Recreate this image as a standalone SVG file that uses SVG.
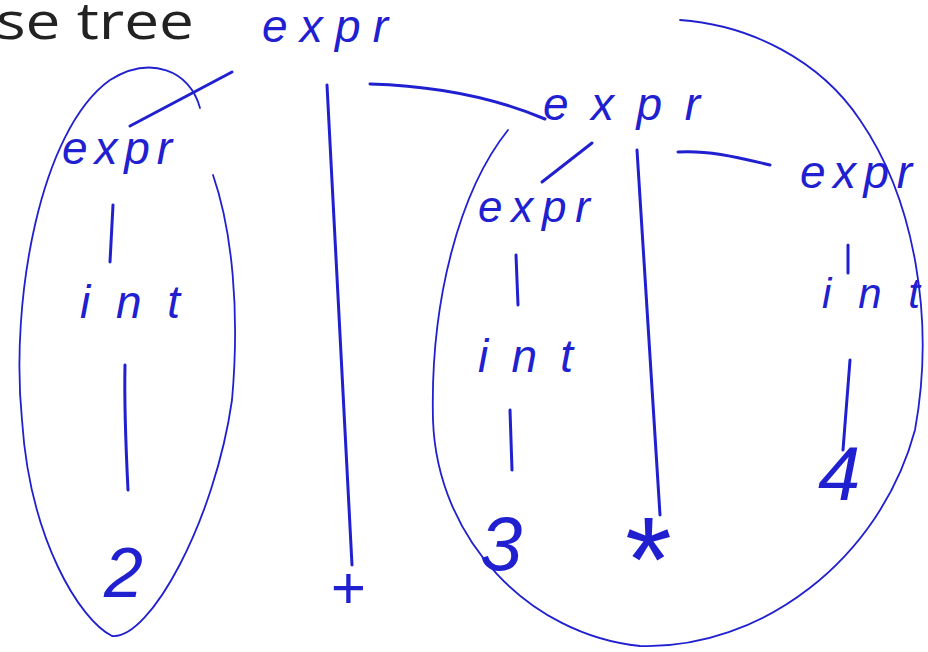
<svg xmlns="http://www.w3.org/2000/svg" width="928" height="652" viewBox="0 0 928 652">
<style>
.t{font-family:"Liberation Sans",Arial,sans-serif;font-style:italic;fill:#2020d0;}
.c{fill:none;stroke:#2020d0;stroke-width:3;stroke-linecap:round;}
.o{fill:none;stroke:#2020d0;stroke-width:1.8;stroke-linecap:round;}
.h{font-family:"Open Sans","DejaVu Sans",sans-serif;fill:#222;}
</style>
<rect width="928" height="652" fill="#fff"/>
<text class="h" x="-4" y="39" font-size="52" textLength="198" lengthAdjust="spacingAndGlyphs">se tree</text>
<g id="groups">
<path class="o" d="M200,108 C190,70 150,55 110,80 C40,130 10,300 22,420 C30,540 80,620 112,636 C150,640 215,520 232,400 C240,310 232,230 213,175"/>
<path class="o" d="M508,130 C460,190 430,300 433,420 C437,540 530,635 640,646 C760,650 880,560 915,430 C935,320 915,200 860,120 C820,60 750,25 680,20"/>
</g>
<g id="connectors">
<path class="c" d="M232,72 L130,126"/>
<path class="c" d="M327,85 L352,565"/>
<path class="c" d="M370,84 C440,86 500,100 545,119"/>
<path class="c" d="M113,205 L110,262"/>
<path class="c" d="M125,365 C124,410 126,450 128,490"/>
<path class="c" d="M592,143 L542,182"/>
<path class="c" d="M637,150 L660,515"/>
<path class="c" d="M678,152 C710,150 740,158 770,165"/>
<path class="c" d="M516,255 L518,305"/>
<path class="c" d="M510,410 L512,470"/>
<path class="c" d="M848,245 L848,273"/>
<path class="c" d="M850,360 L843,450"/>
</g>
<g id="n-expr-root"><text class="t" x="262" y="42" font-size="46" textLength="126" lengthAdjust="spacing">expr</text></g>
<g id="n-expr-l"><text class="t" x="62" y="164" font-size="46" textLength="110" lengthAdjust="spacing">expr</text></g>
<g id="n-int-l"><text class="t" x="80" y="318" font-size="46" textLength="100" lengthAdjust="spacing">int</text></g>
<g id="n-2"><text class="t" x="104" y="597" font-size="70">2</text></g>
<g id="n-plus"><text class="t" x="330" y="608" font-size="60">+</text></g>
<g id="n-expr-m"><text class="t" x="543" y="120" font-size="46" textLength="157" lengthAdjust="spacing">expr</text></g>
<g id="n-expr-ml"><text class="t" x="478" y="222" font-size="44" textLength="112" lengthAdjust="spacing">expr</text></g>
<g id="n-int-ml"><text class="t" x="478" y="372" font-size="46" textLength="95" lengthAdjust="spacing">int</text></g>
<g id="n-3"><text class="t" x="480" y="570" font-size="76">3</text></g>
<g id="n-star"><text class="t" x="620" y="601" font-size="120">*</text></g>
<g id="n-expr-r"><text class="t" x="800" y="188" font-size="46" textLength="112" lengthAdjust="spacing">expr</text></g>
<g id="n-int-r"><text class="t" x="822" y="308" font-size="42" textLength="98" lengthAdjust="spacing">int</text></g>
<g id="n-4"><text class="t" x="818" y="500" font-size="76">4</text></g>
</svg>
